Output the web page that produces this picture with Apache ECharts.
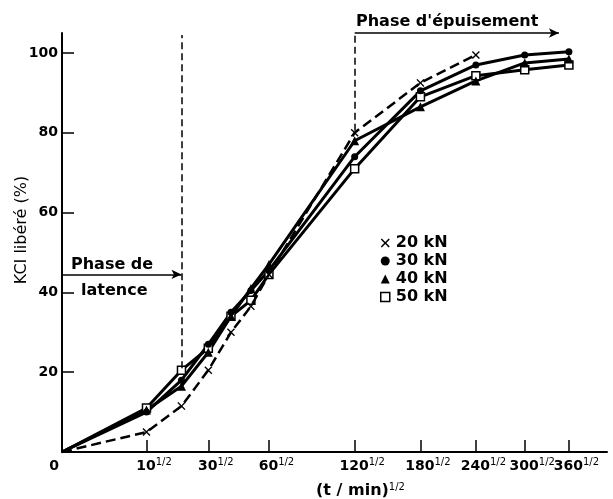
<!DOCTYPE html>
<html>
<head>
<meta charset="utf-8">
<script src="https://cdn.jsdelivr.net/npm/echarts@6/dist/echarts.min.js"></script>
<style>
html,body{margin:0;padding:0;background:#fff;}
#c{width:613px;height:499px;}
</style>
</head>
<body>
<div id="c"></div>
<script>
// ---- data (t in minutes; x axis is t^1/2) ----
const tMinutes = [0, 10, 20, 30, 40, 50, 60, 120, 180, 240, 300, 360];
const kn20 = [0, 5, 11.5, 20.5, 30, 36.5, 44.5, 80, 92.5, 99.5, null, null];
const kn30 = [0, 10, 18, 27, 35, 40.5, 45.5, 74, 90.5, 97, 99.5, 100.3];
const kn40 = [0, 10.5, 16.5, 25, 34, 41, 47, 78, 86.5, 93, 97.5, 98.5];
const kn50 = [0, 11, 20.5, 26, 34, 38, 44.5, 71, 89, 94.3, 95.8, 97];
const seriesNames = ['20 kN', '30 kN', '40 kN', '50 kN'];
const xTickMinutes = [10, 30, 60, 120, 180, 240, 300, 360];
const yTicks = [20, 40, 60, 80, 100];
const X_MAX = 20.4, Y_MAX = 105;
// annotation anchors (in minutes / %)
const latencyT = 20, latencyTop = 104.5, latencyBottom = 21, latencyArrowY = 44.5;
const exhaustT = 120, exhaustBottom = 80.5, exhaustY = 105, exhaustArrowEndX = 18.6;

const sq = Math.sqrt;
const xPath = 'path://M0,1.2 L1.2,0 L5,3.8 L8.8,0 L10,1.2 L6.2,5 L10,8.8 L8.8,10 L5,6.2 L1.2,10 L0,8.8 L3.8,5 Z';
const FONT = 'DejaVu Sans';

function toData(vals) {
  const out = [];
  tMinutes.forEach((t, i) => {
    if (vals[i] == null) return;
    const item = { value: [sq(t), vals[i]] };
    if (i === 0) item.symbol = 'none';
    out.push(item);
  });
  return out;
}

// labels: origin "0", the t^1/2 ticks, plus an empty end label so no real label gets hidden
const xLabelValues = [0].concat(xTickMinutes.map(t => sq(t))).concat([X_MAX]);

const chart = echarts.init(document.getElementById('c'), null, { renderer: 'canvas' });

const option = {
  backgroundColor: '#fff',
  animation: false,
  grid: { left: 62, right: 6, top: 33, bottom: 47, containLabel: false, outerBoundsMode: 'none' },
  xAxis: {
    type: 'value', min: 0, max: X_MAX,
    axisLine: { lineStyle: { color: '#000', width: 2 } },
    axisTick: { show: true, inside: true, length: 12, lineStyle: { color: '#000', width: 1.5 }, customValues: xTickMinutes.map(t => sq(t)) },
    splitLine: { show: false },
    axisLabel: {
      customValues: xLabelValues,
      hideOverlap: false,
      margin: 5,
      color: '#000',
      fontFamily: FONT,
      formatter: function (v) {
        if (v < 0.01) return '{z|0}';
        if (v > X_MAX - 0.01) return '{e| }';
        let best = xTickMinutes[0];
        xTickMinutes.forEach(t => { if (Math.abs(sq(t) - v) < Math.abs(sq(best) - v)) best = t; });
        return '{n|' + best + '}{s|1/2}';
      },
      rich: {
        z: { fontSize: 14, fontWeight: 'bold', fontFamily: FONT, color: '#000', padding: [0, 16, 0, 0], lineHeight: 18 },
        e: { fontSize: 4, fontFamily: FONT, color: '#000', lineHeight: 18 },
        n: { fontSize: 14, fontWeight: 'bold', fontFamily: FONT, color: '#000', padding: [0, 0, 0, 15], lineHeight: 18 },
        s: { fontSize: 10, fontFamily: FONT, color: '#000', verticalAlign: 'top', lineHeight: 10 }
      }
    },
    name: '{m|(t / min)}{s|1/2}',
    nameLocation: 'middle',
    nameGap: 30,
    nameTextStyle: {
      rich: {
        m: { fontSize: 16, fontWeight: 'bold', fontFamily: FONT, color: '#000', padding: [0, 0, 0, 52], lineHeight: 18 },
        s: { fontSize: 10, fontFamily: FONT, color: '#000', verticalAlign: 'top', lineHeight: 10 }
      }
    }
  },
  yAxis: {
    type: 'value', min: 0, max: Y_MAX, interval: 20,
    axisLine: { show: true, lineStyle: { color: '#000', width: 2 } },
    axisTick: { show: true, inside: true, length: 12, lineStyle: { color: '#000', width: 1.5 }, customValues: yTicks },
    splitLine: { show: false },
    axisLabel: {
      customValues: yTicks,
      margin: 4, color: '#000', fontSize: 14, fontWeight: 'bold', fontFamily: FONT
    }
  },
  legend: {
    orient: 'vertical', left: 380, top: 235, padding: 0,
    itemWidth: 9, itemHeight: 9, itemGap: 2,
    textStyle: { fontSize: 16, fontWeight: 'bold', fontFamily: FONT, color: '#000', padding: [0, 0, 0, 1] },
    data: [
      { name: seriesNames[0], icon: xPath, itemStyle: { color: '#000', borderWidth: 0 } },
      { name: seriesNames[1], icon: 'circle', itemStyle: { color: '#000', borderWidth: 0 } },
      { name: seriesNames[2], icon: 'triangle', itemStyle: { color: '#000', borderWidth: 0 } },
      { name: seriesNames[3], icon: 'rect', itemStyle: { color: '#fff', borderColor: '#000', borderWidth: 1.5 } }
    ]
  },
  series: [
    {
      name: seriesNames[3], type: 'line', data: toData(kn50),
      symbol: 'rect', symbolSize: 8, z: 3,
      lineStyle: { color: '#000', width: 3 },
      itemStyle: { color: '#fff', borderColor: '#000', borderWidth: 1.5 }
    },
    {
      name: seriesNames[2], type: 'line', data: toData(kn40),
      symbol: 'triangle', symbolSize: 9, z: 3,
      lineStyle: { color: '#000', width: 3 },
      itemStyle: { color: '#000' }
    },
    {
      name: seriesNames[1], type: 'line', data: toData(kn30),
      symbol: 'circle', symbolSize: 7, z: 3,
      lineStyle: { color: '#000', width: 3 },
      itemStyle: { color: '#000' }
    },
    {
      name: seriesNames[0], type: 'line', data: toData(kn20),
      symbol: xPath, symbolSize: 8, z: 4,
      lineStyle: { color: '#000', width: 2.5, type: [10, 5] },
      itemStyle: { color: '#000' }
    },
    {
      name: 'annot-dashed', type: 'line', data: [], silent: true, clip: false,
      markLine: {
        silent: true, symbol: ['none', 'none'], label: { show: false },
        lineStyle: { color: '#000', width: 1.5, type: [7, 4] },
        emphasis: { disabled: true },
        data: [
          [{ coord: [sq(latencyT), latencyBottom] }, { coord: [sq(latencyT), latencyTop] }],
          [{ coord: [sq(exhaustT), exhaustBottom] }, { coord: [sq(exhaustT), exhaustY] }]
        ]
      }
    },
    {
      name: 'annot-arrows', type: 'line', data: [], silent: true, clip: false,
      markLine: {
        silent: true, symbol: ['none', 'arrow'], symbolSize: [7, 10], label: { show: false },
        lineStyle: { color: '#000', width: 1.5, type: 'solid' },
        emphasis: { disabled: true },
        data: [
          [{ coord: [0, latencyArrowY] }, { coord: [sq(latencyT), latencyArrowY] }],
          [{ coord: [sq(exhaustT), exhaustY] }, { coord: [exhaustArrowEndX, exhaustY] }]
        ]
      }
    }
  ],
  graphic: [
    { type: 'text', x: 22, y: 230, rotation: Math.PI / 2, style: { text: 'KCI libéré (%)', fontSize: 16, fontFamily: FONT, fill: '#000', align: 'center', verticalAlign: 'middle' } },
    { type: 'text', left: 71, top: 257, style: { text: 'Phase de', fontSize: 16, fontWeight: 'bold', fontFamily: FONT, fill: '#000' } },
    { type: 'text', left: 81, top: 283, style: { text: 'latence', fontSize: 16, fontWeight: 'bold', fontFamily: FONT, fill: '#000' } },
    { type: 'text', left: 356, top: 14, style: { text: "Phase d'épuisement", fontSize: 16, fontWeight: 'bold', fontFamily: FONT, fill: '#000' } }
  ]
};
chart.setOption(option);
</script>
</body>
</html>
